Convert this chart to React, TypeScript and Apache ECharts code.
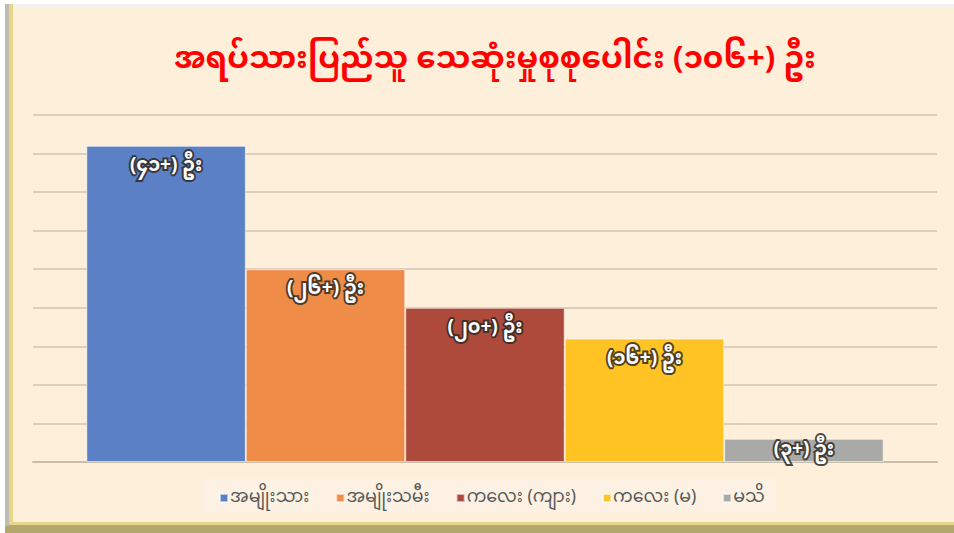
import React, { useEffect, useRef } from "react";
import * as echarts from "echarts";

const titleText = "အရပ်သားပြည်သူ သေဆုံးမှုစုစုပေါင်း (၁၀၆+) ဦး";
const seriesNames = ["အမျိုးသား", "အမျိုးသမီး", "ကလေး (ကျား)", "ကလေး (မ)", "မသိ"];
const seriesValues = [41, 25, 20, 16, 3];
const seriesLabels = ["(၄၁+) ဦး", "(၂၆+) ဦး", "(၂၀+) ဦး", "(၁၆+) ဦး", "(၃+) ဦး"];
const seriesColors = ["#5B80C6", "#EF8C47", "#AD4A3C", "#FFC423", "#A9A9A7"];
const category = ["total"];

const FONT = '"Noto Sans Myanmar", "Myanmar Text", Padauk, "Noto Sans", sans-serif';

export default function App() {
  const ref = useRef<HTMLDivElement>(null);
  useEffect(() => {
    if (!ref.current) return;
    const chart = echarts.init(ref.current, undefined, { renderer: "svg" });
    const series = seriesNames.map((name, i) => ({
      type: "bar",
      name,
      data: [seriesValues[i]],
      barGap: "0%",
      barCategoryGap: "11.8%",
      itemStyle: { color: seriesColors[i], borderColor: "rgba(255,255,255,0.55)", borderWidth: 1 },
      label: {
        show: true,
        position: i === 4 ? "inside" : "insideTop",
        distance: 11,
        formatter: () => seriesLabels[i],
        color: "#ffffff",
        fontSize: 19,
        fontWeight: "bold",
        fontFamily: FONT,
        textBorderColor: "rgba(50,44,38,0.85)",
        textBorderWidth: 4,
      },
    }));
    chart.setOption({
      animation: false,
      backgroundColor: "#ffffff",
      graphic: [
        { type: "rect", z: -10, shape: { x: 5, y: 4, width: 949, height: 529 }, style: { fill: "#B3A76C" } },
        { type: "rect", z: -9, shape: { x: 5, y: 4, width: 4, height: 522 }, style: { fill: "#BDBCB2" } },
        { type: "rect", z: -9, shape: { x: 9, y: 4, width: 945, height: 521 }, style: { fill: "#E6D68C" } },
        { type: "rect", z: -8, shape: { x: 13, y: 6, width: 941, height: 516 }, style: { fill: "#FDEFD9" } },
        { type: "rect", z: -8, shape: { x: 13, y: 4, width: 941, height: 3 }, style: { fill: "#F2F0EC" } },
        { type: "rect", z: -7, shape: { x: 202, y: 479, width: 574, height: 33 }, style: { fill: "#FCF1E2" } },
      ],
      title: {
        text: titleText,
        left: 490,
        textAlign: "center",
        top: 40,
        textStyle: { color: "#FF0000", fontSize: 31, fontWeight: "bold", fontFamily: FONT },
      },
      legend: {
        bottom: 21,
        left: 214,
        width: 620,
        itemWidth: 8,
        itemHeight: 8,
        itemGap: 26,
        icon: "rect",
        textStyle: { color: "#595959", fontSize: 17.5, fontFamily: FONT, padding: [0, 0, 0, -3] },
        data: seriesNames,
      },
      grid: { left: 33, right: 17, top: 115, bottom: 71 },
      xAxis: {
        type: "category",
        data: category,
        axisLine: { show: true, lineStyle: { color: "#C9BEAB", width: 2 } },
        axisTick: { show: false },
        axisLabel: { show: false },
      },
      yAxis: {
        type: "value",
        min: 0,
        max: 45,
        interval: 5,
        axisLabel: { show: false },
        axisLine: { show: false },
        axisTick: { show: false },
        splitLine: { lineStyle: { color: "#D0C6B3", width: 1.5 } },
      },
      series,
    });
    return () => chart.dispose();
  }, []);
  return (
    <div
      ref={ref}
      style={{ position: "fixed", left: 0, top: 0, width: 954, height: 533 }}
    />
  );
}
